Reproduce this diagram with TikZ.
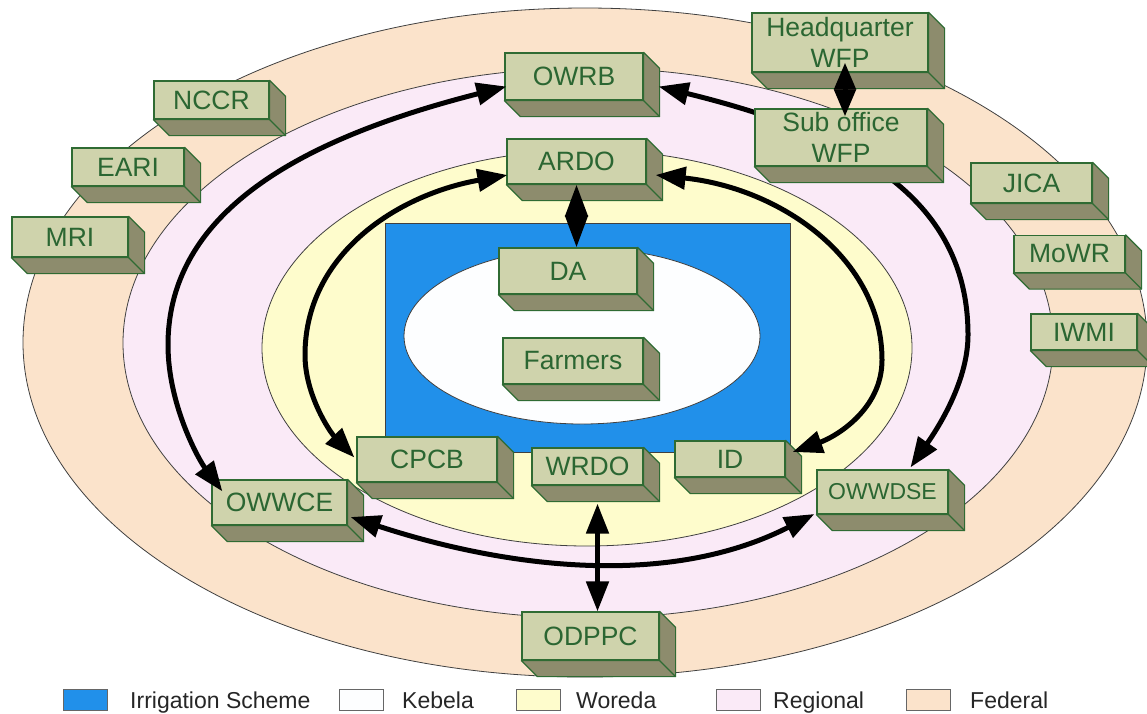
\documentclass[tikz,border=0pt]{standalone}
\usepackage{fontspec}
\setmainfont{Liberation Sans}
\usetikzlibrary{arrows.meta}
\definecolor{fed}{HTML}{FBE3CB}
\definecolor{reg}{HTML}{FAEAF7}
\definecolor{wor}{HTML}{FEFCCC}
\definecolor{irr}{HTML}{2190EA}
\definecolor{keb}{HTML}{FDFEFF}
\definecolor{boxfront}{HTML}{CFD3AC}
\definecolor{boxside}{HTML}{8D8C6D}
\definecolor{boxline}{HTML}{2F6B33}
\definecolor{boxtext}{HTML}{2B6632}
\tikzset{
 frontbox/.style={draw=boxline, fill=boxfront, line width=1.2pt, inner sep=0pt, text=boxtext, font=\fontsize{26.5}{31}\selectfont, align=center},
 sideface/.style={draw=boxline, fill=boxside, line width=1.2pt, line join=round},
 region/.style={draw=black!75, line width=0.8pt},
 link/.style={line width=5pt, {Triangle[length=30pt,width=22pt]}-{Triangle[length=30pt,width=22pt]}},
 linkshort/.style={line width=5pt, {Triangle[length=27pt,width=21pt]}-{Triangle[length=27pt,width=21pt]}},
 linkmid/.style={line width=5pt, {Triangle[length=32pt,width=22pt]}-{Triangle[length=32pt,width=22pt]}},
 legbox/.style={draw=black!60, line width=0.8pt, minimum width=44pt, minimum height=21pt, inner sep=0pt},
 legtext/.style={anchor=base west, font=\fontsize{23}{24}\selectfont, text=black!85, inner sep=0pt},
}
\newcommand\tdbox[6]{%
  \node[frontbox, minimum width=#4pt, minimum height=#5pt] (#1) at (#2,#3) {#6};
  \filldraw[sideface] (#1.south west) -- ([shift={(16,16)}]#1.south west) -- ([shift={(16,16)}]#1.south east) -- ([shift={(16,16)}]#1.north east) -- (#1.north east) -- (#1.south east) -- cycle;
  \draw[sideface, fill=none] (#1.south east) -- ([shift={(16,16)}]#1.south east);
}
\begin{document}
\begin{tikzpicture}[x=1pt,y=-1pt]
\useasboundingbox (0,0) rectangle (1147,713);
\fill[white] (0,0) rectangle (1147,713);
% regions
\filldraw[region, fill=fed] (585,342.5) ellipse [x radius=562pt, y radius=334.5pt];
\filldraw[region, fill=reg] (588,343) ellipse [x radius=465pt, y radius=275pt];
\filldraw[region, fill=wor] (587,348) ellipse [x radius=325pt, y radius=198pt];
\filldraw[region, fill=irr] (385,223) rectangle (790,452);
\filldraw[region, fill=keb] (582,336) ellipse [x radius=178pt, y radius=88pt];
% boxes
\tdbox{NCCR}{211.5}{100}{115}{38}{NCCR}
\tdbox{EARI}{128}{167}{112}{38}{EARI}
\tdbox{MRI}{70}{237}{116}{40}{MRI}
\tdbox{HQ}{840}{42.5}{176}{59}{Headquarter\\WFP}
\tdbox{OWRB}{574}{76.5}{138}{47}{OWRB}
\tdbox{JICA}{1031.5}{183}{121}{40}{JICA}
\tdbox{MoWR}{1069.5}{254}{111}{37}{MoWR}
\tdbox{IWMI}{1084}{332}{106}{36}{IWMI}
\tdbox{ARDO}{576.5}{161.5}{139}{45}{ARDO}
\tdbox{DA}{568}{271}{138}{46}{DA}
\tdbox{Farmers}{573}{361}{140}{46}{Farmers}
\tdbox{CPCB}{427}{459.5}{140}{45}{CPCB}
\tdbox{WRDO}{587.5}{466.5}{111}{37}{WRDO}
\tdbox{ID}{730}{459}{110}{36}{ID}
\tdbox{OWWCE}{279.5}{502.5}{135}{45}{OWWCE}
\tdbox{OWWDSE}{882.5}{492}{131}{44}{\fontsize{23}{24}\selectfont OWWDSE}
\tdbox{ODPPC}{590.5}{636}{137}{48}{ODPPC}
% arcs
\draw[link] ([shift={(2,10)}]OWRB.west) .. controls (320,134) and (168,203) .. (168,345) .. controls (168,405) and (199,460) .. ([shift={(11,12)}]OWWCE.north west);
\draw[link] ([shift={(15,10)}]OWRB.east) .. controls (848,133) and (968,195) .. (968,335) .. controls (968,385) and (933,435) .. ([shift={(28,-2)}]OWWDSE.north);
\draw[link] ([shift={(3,14.5)}]OWWCE.east) .. controls (500,566) and (665,590) .. ([shift={(-2,22)}]OWWDSE.west);
\draw[link] ([shift={(1,13.5)}]ARDO.west) .. controls (396,195) and (305,255) .. (305,355) .. controls (305,395) and (330,432) .. ([shift={(-2,-2)}]CPCB.west);
\draw[link] ([shift={(9,13.5)}]ARDO.east) .. controls (780,188) and (882,258) .. (882,360) .. controls (882,410) and (835,437) .. ([shift={(7,-7)}]ID.east);
% sub office box drawn above arc
\tdbox{Sub}{841}{137.5}{172}{57}{Sub office\\WFP}
% vertical links
\coordinate (h1) at ([shift={(5,-10)}]HQ.south);
\coordinate (h2) at ([shift={(4,8)}]Sub.north);
\draw[linkshort] (h1) -- (h1 |- h2);
\draw[linkmid] (ARDO.south) -- (ARDO.south |- DA.north);
\coordinate (w1) at ([shift={(10,18)}]WRDO.south);
\draw[link] (w1) -- (w1 |- ODPPC.north);
% legend
\node[legbox, fill=irr] (l1) at (85,700) {};
\node[legtext] (t1) at (130,708) {Irrigation Scheme};
\node[legbox, fill=keb] (l2) at (361,700) {};
\node[legtext] (t2) at (402,708) {Kebela};
\node[legbox, fill=wor] (l3) at (538.5,700) {};
\node[legtext] (t3) at (576,708) {Woreda};
\node[legbox, fill=reg] (l4) at (738.5,700) {};
\node[legtext] (t4) at (773,708) {Regional};
\node[legbox, fill=fed] (l5) at (928,700) {};
\node[legtext] (t5) at (970,708) {Federal};
\end{tikzpicture}
\end{document}
